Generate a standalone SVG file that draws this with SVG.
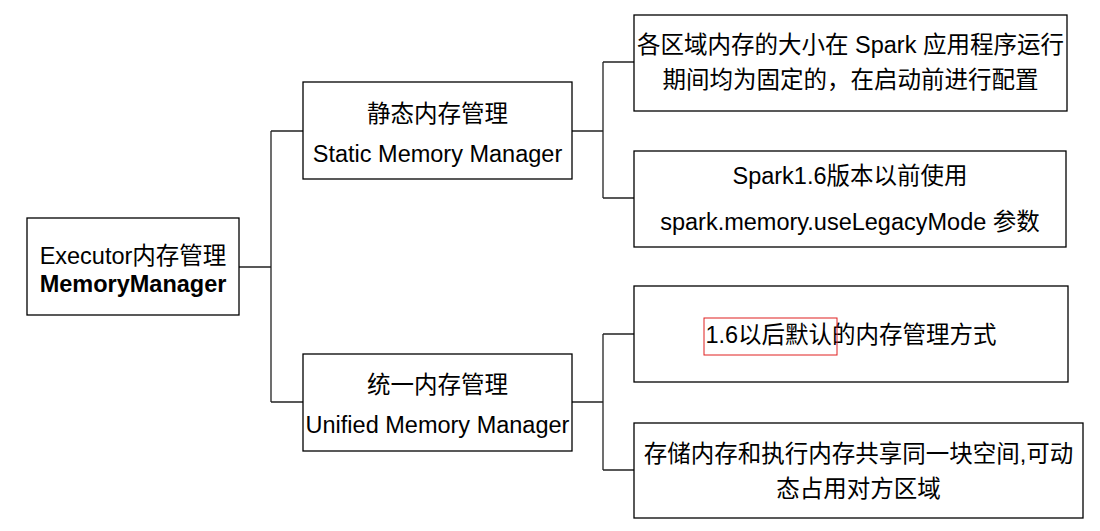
<svg xmlns="http://www.w3.org/2000/svg" width="1100" height="531" viewBox="0 0 1100 531">
<style>
.box{fill:#fff;stroke:#000;stroke-width:1.3}
.t{font-family:"Liberation Sans","Noto Sans CJK SC",sans-serif;font-size:23.5px;fill:#000;text-anchor:middle}
.b{font-weight:bold}
.c{fill:none;stroke:#222;stroke-width:1.3}
</style>
<rect width="1100" height="531" fill="#fff"/>
<g id="connectors">
<path class="c" d="M239,267H271M271,131V402M271,131H303M271,402H303"/>
<path class="c" d="M572,131H603M603,62V198M603,62H634M603,198H634"/>
<path class="c" d="M572,402H603M603,334V470M603,334H634M603,470H634"/>
</g>
<g id="root">
<rect class="box" x="27" y="218" width="212" height="97"/>
<text class="t" x="133" y="264">Executor内存管理</text>
<text class="t b" x="133" y="292">MemoryManager</text>
</g>
<g id="static">
<rect class="box" x="303" y="82" width="269" height="97"/>
<text class="t" x="437.5" y="122">静态内存管理</text>
<text class="t" x="437.5" y="162">Static Memory Manager</text>
</g>
<g id="unified">
<rect class="box" x="303" y="354" width="269" height="97"/>
<text class="t" x="437.5" y="393">统一内存管理</text>
<text class="t" x="437.5" y="433">Unified Memory Manager</text>
</g>
<g id="static-1">
<rect class="box" x="634" y="15" width="433" height="96"/>
<text class="t" x="850.5" y="53">各区域内存的大小在 Spark 应用程序运行</text>
<text class="t" x="850.5" y="88">期间均为固定的，在启动前进行配置</text>
</g>
<g id="static-2">
<rect class="box" x="634" y="151" width="432" height="96"/>
<text class="t" x="850" y="184">Spark1.6版本以前使用</text>
<text class="t" x="850" y="230">spark.memory.useLegacyMode 参数</text>
</g>
<g id="unified-1">
<rect class="box" x="634" y="286" width="434" height="96"/>
<text class="t" x="851" y="343">1.6以后默认的内存管理方式</text>
<rect x="704" y="318" width="133" height="37" fill="none" stroke="#e02020" stroke-width="1"/>
</g>
<g id="unified-2">
<rect class="box" x="634" y="423" width="449" height="95"/>
<text class="t" x="858.5" y="462">存储内存和执行内存共享同一块空间,可动</text>
<text class="t" x="858.5" y="497">态占用对方区域</text>
</g>
</svg>
